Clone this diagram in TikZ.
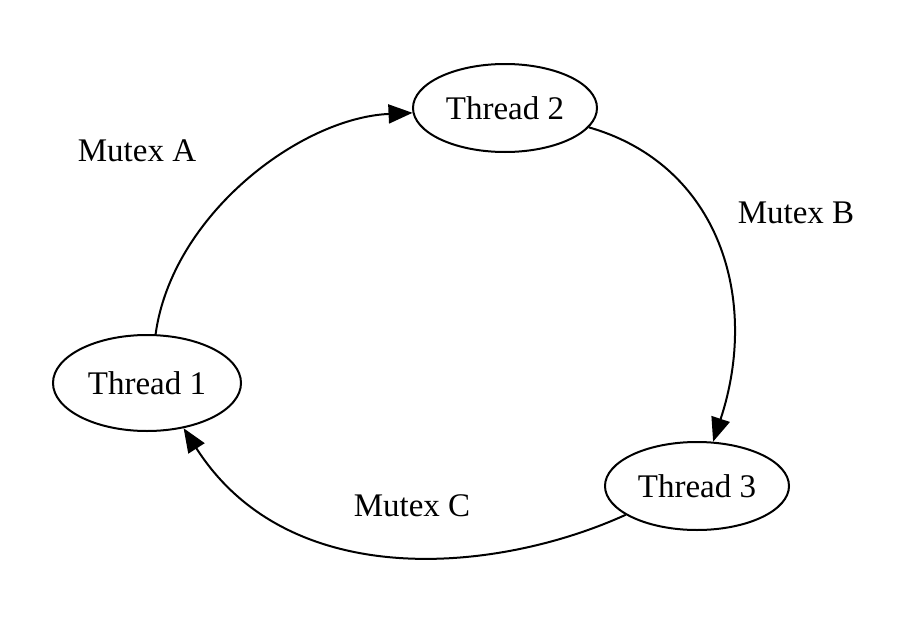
\documentclass[tikz,border=0pt]{standalone}
\usepackage{fontspec}
\setmainfont{Liberation Serif}
\usetikzlibrary{shapes.geometric,arrows.meta}
\begin{document}
\begin{tikzpicture}[x=1pt,y=-1pt,
  thread/.style={ellipse,draw,line width=2pt,inner sep=0pt,minimum width=184pt,minimum height=88pt,font=\fontsize{33}{36}\selectfont},
  conn/.style={line width=2pt,-{Triangle[length=24pt,width=19pt]}},
  lab/.style={font=\fontsize{33}{36}\selectfont}]
\useasboundingbox (0,0) rectangle (908,629);
\fill[white] (0,0) rectangle (908,629);
\node[thread] (t2) at (505,108) {Thread 2};
\node[thread,minimum width=188pt,minimum height=96pt] (t1) at (147,383) {Thread 1};
\node[thread] (t3) at (697,486) {Thread 3};
\draw[conn] (t1.80.5) .. controls (172,215) and (300,118) .. (t2.183.8);
\draw[conn] (t2.-13.5) .. controls (720,165) and (760,300) .. (t3.70.3);
\draw[conn] (t3.202.5) .. controls (500,572) and (290,595) .. (t1.-51);
\node[lab] (la) at (137,151) {Mutex A};
\node[lab] (lb) at (796,213) {Mutex B};
\node[lab] (lc) at (412,506) {Mutex C};
\end{tikzpicture}
\end{document}
